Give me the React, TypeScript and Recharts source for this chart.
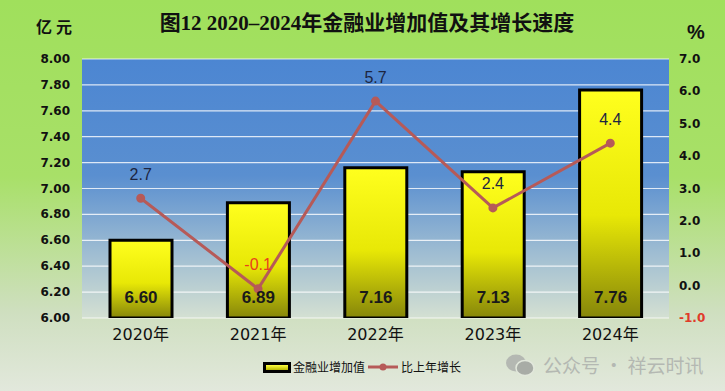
import React from 'react';
import { ComposedChart, Bar, Line, XAxis, YAxis, CartesianGrid, LabelList } from 'recharts';

const years = ['2020年', '2021年', '2022年', '2023年', '2024年'];
const addedValue = [6.6, 6.89, 7.16, 7.13, 7.76];
const growthRate = [2.7, -0.1, 5.7, 2.4, 4.4];
const leftTicks = [6.0, 6.2, 6.4, 6.6, 6.8, 7.0, 7.2, 7.4, 7.6, 7.8, 8.0];
const rightTicks = [-1, 0, 1, 2, 3, 4, 5, 6, 7];

const data = years.map((y, i) => ({ year: y, value: addedValue[i], growth: growthRate[i] }));

const tickFont = '"DejaVu Sans", sans-serif';

const LeftTick = (props: any) => {
  const { x, y, payload } = props;
  return (
    <text x={x} y={y} textAnchor="end" dominantBaseline="central" fontFamily={tickFont} fontWeight="bold" fontSize={12} fill="#111">
      {Number(payload.value).toFixed(2)}
    </text>
  );
};

const RightTick = (props: any) => {
  const { x, y, payload } = props;
  const v = Number(payload.value);
  return (
    <text x={x} y={y} textAnchor="start" dominantBaseline="central" fontFamily={tickFont} fontWeight="bold" fontSize={12} fill={v < 0 ? '#e03a2a' : '#111'}>
      {v.toFixed(1)}
    </text>
  );
};

const XTick = (props: any) => {
  const { x, y, payload } = props;
  return (
    <text x={x} y={y + 8} textAnchor="middle" dominantBaseline="central" fontFamily={'"DejaVu Sans", "Noto Sans CJK SC", sans-serif'} fontSize={16} fill="#111">
      {payload.value}
    </text>
  );
};

const LineLabel = (props: any) => {
  const { x, y, value } = props;
  const v = Number(value);
  return (
    <text x={x} y={y - 24} textAnchor="middle" dominantBaseline="central" fontFamily={'"Liberation Sans", sans-serif'} fontSize={16} fill={v < 0 ? '#e8401c' : '#1c2540'}>
      {v.toFixed(1)}
    </text>
  );
};

const BarLabel = (props: any) => {
  const { x, y, width, height, value } = props;
  return (
    <text x={x + width / 2} y={y + height - 21} textAnchor="middle" dominantBaseline="central" fontFamily={'"Liberation Sans", sans-serif'} fontWeight="bold" fontSize={17} fill="#1a1a1a">
      {Number(value).toFixed(2)}
    </text>
  );
};

export default function App() {
  return (
    <div
      style={{
        position: 'absolute',
        left: 0,
        top: 0,
        width: 725,
        height: 391,
        background: 'linear-gradient(180deg, #a0e05c 0%, #a8e068 45%, #cfdfc0 80%, #e2e8dc 100%)',
        overflow: 'hidden',
      }}
    >
      <div
        style={{
          position: 'absolute',
          left: 157,
          top: 9,
          width: 420,
          textAlign: 'center',
          fontFamily: '"Liberation Serif", "Noto Sans CJK SC", serif',
          fontWeight: 'bold',
          fontSize: 21,
          color: '#111',
          whiteSpace: 'nowrap',
          lineHeight: '28px',
        }}
      >
        图12 2020–2024年金融业增加值及其增长速度
      </div>
      <div
        style={{
          position: 'absolute',
          left: 36,
          top: 15,
          fontFamily: '"Noto Sans CJK SC", sans-serif',
          fontWeight: 'bold',
          fontSize: 16,
          letterSpacing: 4,
          color: '#111',
          lineHeight: '22px',
        }}
      >
        亿元
      </div>
      <div
        style={{
          position: 'absolute',
          left: 687,
          top: 20,
          fontFamily: '"Liberation Sans", sans-serif',
          fontWeight: 'bold',
          fontSize: 20,
          color: '#111',
          lineHeight: '24px',
        }}
      >
        %
      </div>
      <div style={{ position: 'absolute', left: 0, top: 0 }}>
        <ComposedChart width={725} height={391} data={data} margin={{ top: 59, right: 0, bottom: 0, left: 0 }}>
          <defs>
            <linearGradient id="plotBg" x1="0" y1="0" x2="0" y2="1">
              <stop offset="0%" stopColor="#4c86d2" />
              <stop offset="45%" stopColor="#5a8fd0" />
              <stop offset="75%" stopColor="#9fbdd2" />
              <stop offset="100%" stopColor="#d4e0d2" />
            </linearGradient>
            <linearGradient id="barFill" x1="0" y1="0" x2="0" y2="1">
              <stop offset="0%" stopColor="#ffff1e" />
              <stop offset="55%" stopColor="#e8e806" />
              <stop offset="100%" stopColor="#86860a" />
            </linearGradient>
          </defs>
          <CartesianGrid yAxisId="left" vertical={false} horizontal={true} stroke="#ffffff" strokeOpacity={0.8} strokeWidth={1.2} fill="url(#plotBg)" fillOpacity={1} />
          <XAxis dataKey="year" axisLine={false} tickLine={false} height={73} tick={<XTick />} interval={0} />
          <YAxis
            yAxisId="left"
            orientation="left"
            domain={[6, 8]}
            ticks={leftTicks}
            width={82}
            axisLine={false}
            tickLine={false}
            tickSize={0}
            tickMargin={12}
            tick={<LeftTick />}
            interval={0}
            allowDataOverflow
          />
          <YAxis
            yAxisId="right"
            orientation="right"
            domain={[-1, 7]}
            ticks={rightTicks}
            width={56}
            axisLine={false}
            tickLine={false}
            tickSize={0}
            tickMargin={10}
            tick={<RightTick />}
            interval={0}
            allowDataOverflow
          />
          <Bar yAxisId="left" dataKey="value" barSize={62} fill="url(#barFill)" stroke="#000" strokeWidth={3} isAnimationActive={false}>
            <LabelList dataKey="value" content={<BarLabel />} />
          </Bar>
          <Line
            yAxisId="right"
            dataKey="growth"
            stroke="#b65a58"
            strokeWidth={3}
            dot={{ r: 3, fill: '#b65a58', stroke: '#b65a58' }}
            isAnimationActive={false}
          >
            <LabelList dataKey="growth" content={<LineLabel />} />
          </Line>
        </ComposedChart>
      </div>
      {/* Legend */}
      <div style={{ position: 'absolute', left: 263, top: 359, display: 'flex', alignItems: 'center', fontFamily: '"Noto Sans CJK SC", sans-serif', fontSize: 12, color: '#111', lineHeight: '16px' }}>
        <div style={{ width: 22, height: 5, border: '3px solid #000', background: 'linear-gradient(180deg, #ffff40, #b8b800)', marginRight: 2 }} />
        <span>金融业增加值</span>
        <svg width={30} height={12} style={{ marginLeft: 3, marginRight: 3 }}>
          <line x1={0} y1={6} x2={30} y2={6} stroke="#b65a58" strokeWidth={3} />
          <circle cx={15} cy={6} r={3.5} fill="#b65a58" />
        </svg>
        <span>比上年增长</span>
      </div>
      {/* Watermark */}
      <div style={{ position: 'absolute', left: 505, top: 352, display: 'flex', alignItems: 'center', color: '#b4b8b2', fontFamily: '"Noto Sans CJK SC", sans-serif', fontSize: 19, lineHeight: '26px' }}>
        <svg width={30} height={24} style={{ marginRight: 8 }}>
          <ellipse cx={11} cy={10} rx={10} ry={8.5} fill="#b4b8b2" />
          <ellipse cx={20} cy={15} rx={9} ry={7.5} fill="#a8aca6" stroke="#e2e8dc" strokeWidth={1.5} />
        </svg>
        <span>公众号 · 祥云时讯</span>
      </div>
    </div>
  );
}
